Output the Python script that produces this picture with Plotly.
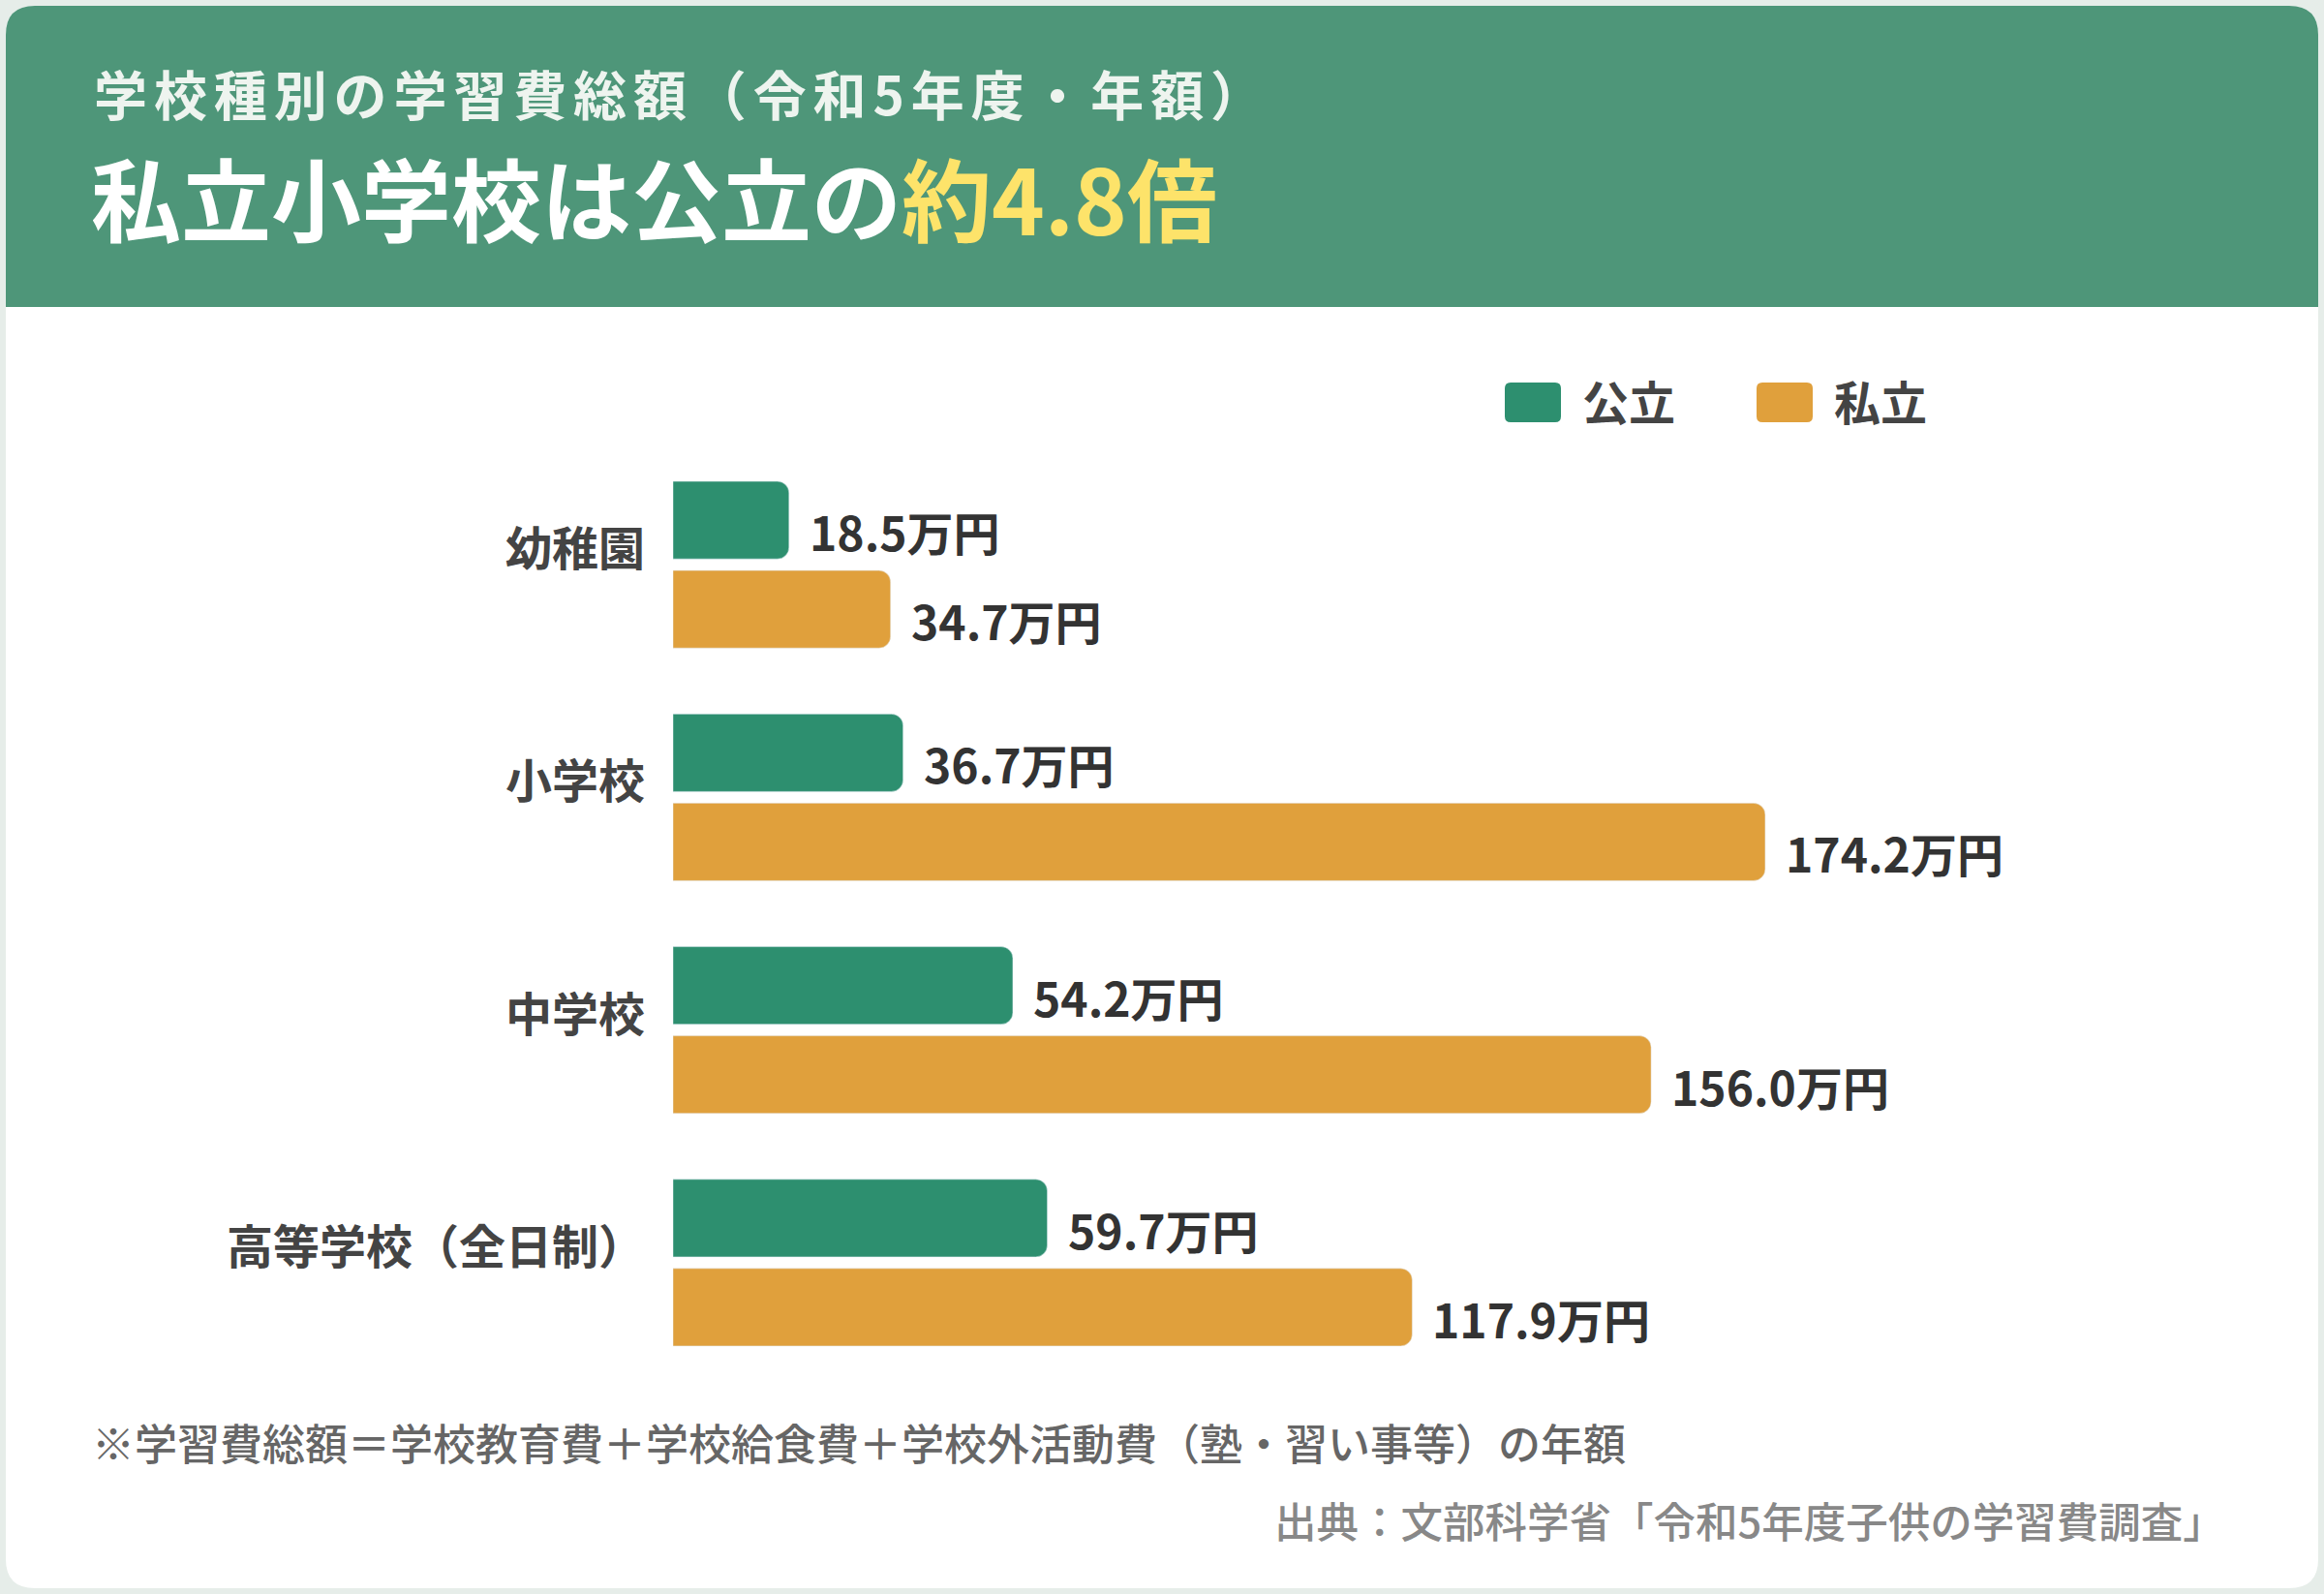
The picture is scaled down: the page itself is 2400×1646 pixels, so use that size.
import plotly.graph_objects as go

W = 2400
H = 1646

categories = ["幼稚園", "小学校", "中学校", "高等学校（全日制）"]
public_values = [18.5, 36.7, 54.2, 59.7]
private_values = [34.7, 174.2, 156.0, 117.9]
series_names = ["公立", "私立"]

subtitle = "学校種別の学習費総額（令和5年度・年額）"
title_main = "私立小学校は公立の"
title_accent = "約4.8倍"
note_text = "※学習費総額＝学校教育費＋学校給食費＋学校外活動費（塾・習い事等）の年額"
source_text = "出典：文部科学省「令和5年度子供の学習費調査」"

GREEN = "#2d8f6f"
ORANGE = "#e0a03c"
HEADER = "#4e9679"
FONT = "Noto Sans CJK JP"


def px(x):
    return x / W


def py(y):
    return 1 - y / H


def spaced(s, sep="\u200a\u200a"):
    # poor man's letter-spacing
    return sep.join(list(s))


def rounded_path(x0, y0, x1, y1, r, bottom=True):
    # path in pixel coords -> paper coords, rounded corners
    p = "M %f,%f " % (px(x0 + r), py(y0))
    p += "L %f,%f " % (px(x1 - r), py(y0))
    p += "Q %f,%f %f,%f " % (px(x1), py(y0), px(x1), py(y0 + r))
    if bottom:
        p += "L %f,%f " % (px(x1), py(y1 - r))
        p += "Q %f,%f %f,%f " % (px(x1), py(y1), px(x1 - r), py(y1))
        p += "L %f,%f " % (px(x0 + r), py(y1))
        p += "Q %f,%f %f,%f " % (px(x0), py(y1), px(x0), py(y1 - r))
    else:
        p += "L %f,%f " % (px(x1), py(y1))
        p += "L %f,%f " % (px(x0), py(y1))
    p += "L %f,%f " % (px(x0), py(y0 + r))
    p += "Q %f,%f %f,%f Z" % (px(x0), py(y0), px(x0 + r), py(y0))
    return p


fig = go.Figure()
fig.add_trace(go.Bar(y=categories, x=public_values, orientation="h", name=series_names[0],
                     marker=dict(color=GREEN, cornerradius=12), hoverinfo="skip"))
fig.add_trace(go.Bar(y=categories, x=private_values, orientation="h", name=series_names[1],
                     marker=dict(color=ORANGE, cornerradius=12), hoverinfo="skip"))

shapes = []
# card + header
shapes.append(dict(type="path", xref="paper", yref="paper", layer="below",
                   path=rounded_path(6, 6, 2394, 1640, 30), fillcolor="white", line=dict(width=0)))
shapes.append(dict(type="path", xref="paper", yref="paper", layer="below",
                   path=rounded_path(6, 6, 2394, 317, 30, bottom=False), fillcolor=HEADER, line=dict(width=0)))

annotations = []
annotations.append(dict(xref="paper", yref="paper", x=px(95), y=py(95), xanchor="left", yanchor="middle",
                        text=spaced(subtitle), showarrow=False,
                        font=dict(family=FONT, size=55, color="#eef4ef", weight="bold")))
annotations.append(dict(xref="paper", yref="paper", x=px(92), y=py(202), xanchor="left", yanchor="middle",
                        text=title_main + "<span style='color:#fde36a'>" + title_accent + "</span>",
                        showarrow=False, font=dict(family=FONT, size=93, color="white", weight="bold")))

# legend
legend_x = [1554, 1814]
for i, name in enumerate(series_names):
    color = [GREEN, ORANGE][i]
    lx = legend_x[i]
    shapes.append(dict(type="path", xref="paper", yref="paper",
                       path=rounded_path(lx, 395, lx + 58, 436, 6), fillcolor=color, line=dict(width=0)))
    annotations.append(dict(xref="paper", yref="paper", x=px(lx + 78), y=py(413), xanchor="left",
                            yanchor="middle", text=name, showarrow=False,
                            font=dict(family=FONT, size=48, color="#444444", weight="bold")))

# category labels
for c in categories:
    annotations.append(dict(xref="paper", yref="y", x=px(668), y=c, xanchor="right", yanchor="middle",
                            yshift=20, text=c, showarrow=False,
                            font=dict(family=FONT, size=48, color="#444444", weight="bold")))

# value labels
for c, v in zip(categories, public_values):
    annotations.append(dict(xref="x", yref="y", x=v, y=c, xanchor="left", yanchor="middle",
                            xshift=19, yshift=35, text="%.1f万円" % v, showarrow=False,
                            font=dict(family=FONT, size=48, color="#333333", weight="bold")))
for c, v in zip(categories, private_values):
    annotations.append(dict(xref="x", yref="y", x=v, y=c, xanchor="left", yanchor="middle",
                            xshift=19, yshift=-57, text="%.1f万円" % v, showarrow=False,
                            font=dict(family=FONT, size=48, color="#333333", weight="bold")))

annotations.append(dict(xref="paper", yref="paper", x=px(93), y=py(1489), xanchor="left", yanchor="middle",
                        text=note_text, showarrow=False,
                        font=dict(family=FONT, size=44, color="#666666", weight=500)))
annotations.append(dict(xref="paper", yref="paper", x=px(2300), y=py(1569), xanchor="right", yanchor="middle",
                        text=source_text, showarrow=False,
                        font=dict(family=FONT, size=43.5, color="#888888", weight=500)))

fig.update_layout(
    width=W, height=H,
    margin=dict(l=0, r=0, t=0, b=0),
    paper_bgcolor="#e6ede9",
    plot_bgcolor="rgba(0,0,0,0)",
    barmode="group",
    bargap=0.234,
    bargroupgap=0.13,
    showlegend=False,
    shapes=shapes,
    annotations=annotations,
    xaxis=dict(domain=[px(695), 1], range=[0, (W - 695) / 6.475], visible=False, fixedrange=True),
    yaxis=dict(domain=[py(1424), py(463)], autorange="reversed", visible=False, fixedrange=True),
    font=dict(family=FONT),
)

# drop the default body margin so the figure sits at the page corner
fig.write_html("out.html", config={"displayModeBar": False},
               post_script="document.body.style.margin='0';")
